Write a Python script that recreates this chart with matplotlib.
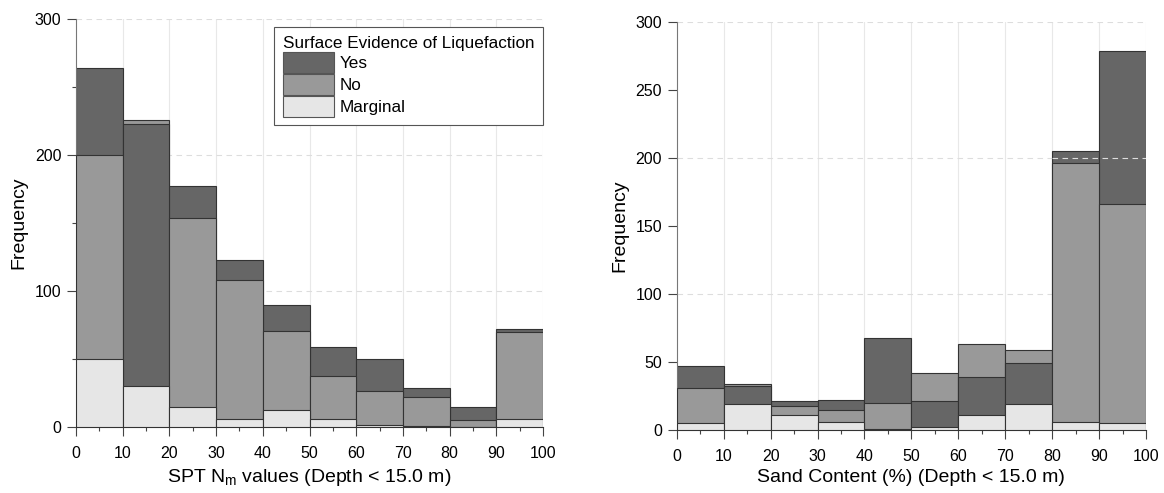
import matplotlib
matplotlib.use("Agg")
import matplotlib.pyplot as plt
import numpy as np
from matplotlib.ticker import MultipleLocator

plt.rcParams['font.family'] = ['Liberation Sans', 'DejaVu Sans']
plt.rcParams['mathtext.fontset'] = 'custom'
plt.rcParams['mathtext.rm'] = 'Liberation Sans'
plt.rcParams['mathtext.it'] = 'Liberation Sans'

# bins (left edges) shared by both histograms
bin_edges = [0, 10, 20, 30, 40, 50, 60, 70, 80, 90, 100]
categories = ['Yes', 'No', 'Marginal']

# SPT Nm counts per bin
spt_yes = [264, 223, 177, 123, 90, 59, 50, 29, 15, 72]
spt_no = [200, 226, 154, 108, 71, 38, 27, 22, 5, 70]
spt_marg = [50, 30, 15, 6, 13, 6, 2, 1, 0, 6]

# sand content counts per bin
sand_yes = [47, 32, 21, 22, 68, 21, 39, 49, 205, 279]
sand_no = [31, 34, 18, 15, 20, 42, 63, 59, 196, 166]
sand_marg = [5, 19, 11, 6, 1, 2, 11, 19, 6, 5]

colors = {'Yes': '#666666', 'No': '#999999', 'Marginal': '#e6e6e6'}
edge = '#333333'


def overlap_hist(ax, yes, no, marg):
    # overlapping bars, tallest at the back
    left = np.array(bin_edges[:-1])
    w = np.diff(bin_edges)
    data = {'Yes': yes, 'No': no, 'Marginal': marg}
    for i in range(len(left)):
        order = sorted(categories, key=lambda c: -data[c][i])
        for k, c in enumerate(order):
            ax.bar(left[i], data[c][i], width=w[i], align='edge',
                   color=colors[c], edgecolor=edge, linewidth=0.8, zorder=2 + k)


def style(ax, xlabel, ymajor, yminor):
    ax.set_xlim(0, 100)
    ax.set_ylim(0, 300)
    ax.xaxis.set_major_locator(MultipleLocator(10))
    ax.xaxis.set_minor_locator(MultipleLocator(5))
    ax.yaxis.set_major_locator(MultipleLocator(ymajor))
    if yminor:
        ax.yaxis.set_minor_locator(MultipleLocator(yminor))
    ax.tick_params(which='major', direction='out', length=6.5, width=0.8,
                   labelsize=11.5, color='#444444', pad=4)
    ax.tick_params(axis='x', which='major', pad=7)
    ax.tick_params(which='minor', direction='out', length=3, width=0.8,
                   color='#444444')
    for s in ['top', 'right']:
        ax.spines[s].set_visible(False)
    ax.spines['left'].set_color('#777777')
    ax.spines['bottom'].set_color('#333333')
    for x in bin_edges[1:]:
        ax.axvline(x, color='#e8e8e8', linewidth=0.8, zorder=0)
    for y in [100, 200, 300]:
        ax.axhline(y, color='#dddddd', linewidth=0.8, linestyle=(0, (5, 4)), zorder=0)
    ax.set_xlabel(xlabel, fontsize=14, labelpad=4)
    ax.set_ylabel('Frequency', fontsize=14, labelpad=5)


fig = plt.figure(figsize=(11.64, 4.93), dpi=100)
ax1 = fig.add_axes([0.0653, 0.1333, 0.4012, 0.8282])
ax2 = fig.add_axes([0.5814, 0.1278, 0.4032, 0.8276])

overlap_hist(ax1, spt_yes, spt_no, spt_marg)
style(ax1, r'SPT N$_\mathrm{m}$ values (Depth < 15.0 m)', 100, 50)

overlap_hist(ax2, sand_yes, sand_no, sand_marg)
style(ax2, 'Sand Content (%) (Depth < 15.0 m)', 50, None)
# gridline artefact drawn over the last two bars
ax2.axhline(200, xmin=0.8, xmax=1.0, color='#dddddd', linewidth=0.8,
            linestyle=(0, (5, 4)), zorder=10)

handles = [plt.Rectangle((0, 0), 1, 1, facecolor=colors[c], edgecolor='#555555',
                         linewidth=0.8) for c in categories]
leg = ax1.legend(handles, categories, title='Surface Evidence of Liquefaction',
                 loc='upper right', bbox_to_anchor=(1.0, 1 - 8 / 408),
                 borderaxespad=0, fontsize=12.3, title_fontsize=12.3,
                 handlelength=3.0, handleheight=1.45, labelspacing=0.1,
                 handletextpad=0.3, borderpad=0.5, fancybox=False,
                 framealpha=1, edgecolor='#555555', alignment='left')
leg.get_frame().set_linewidth(0.8)
leg.set_zorder(20)

fig.savefig('out.png', dpi=100)
